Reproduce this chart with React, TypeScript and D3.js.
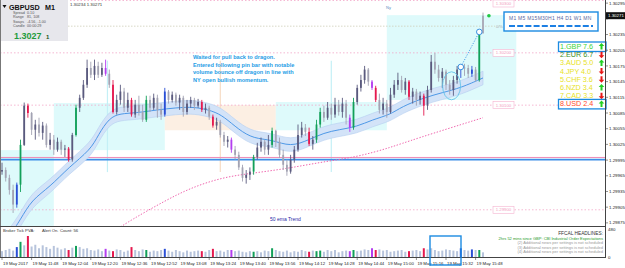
import * as d3 from 'd3';

const W = 625;
const H = 268;

// bars are 2 minutes apart, first bar at 11:32
const firstBarMinute = 692;
const barMinutes = 2;

// open, high, low, close
const candles: number[][] = [
  [1.29973, 1.2999, 1.29967, 1.29976], [1.29976, 1.29981, 1.29954, 1.29961], [1.29961, 1.29967, 1.29929, 1.29938],
  [1.29938, 1.29948, 1.29894, 1.2991], [1.2991, 1.29952, 1.29904, 1.29948], [1.29948, 1.30034, 1.29934, 1.30024],
  [1.30024, 1.30105, 1.30022, 1.30099], [1.30099, 1.30103, 1.30076, 1.30085], [1.30085, 1.30087, 1.30043, 1.30053],
  [1.30053, 1.30072, 1.30034, 1.30063], [1.30063, 1.30076, 1.3004, 1.30047], [1.30047, 1.30068, 1.30034, 1.30061],
  [1.30061, 1.30065, 1.30019, 1.30024], [1.30024, 1.30047, 1.30015, 1.30034], [1.30034, 1.30043, 1.30005, 1.30015],
  [1.30015, 1.30038, 1.30011, 1.3003], [1.3003, 1.30034, 1.30005, 1.30015], [1.30015, 1.30024, 1.30001, 1.30017],
  [1.30017, 1.3002, 1.29992, 1.29996], [1.29996, 1.30047, 1.29992, 1.30043], [1.30043, 1.30101, 1.3004, 1.30095],
  [1.30095, 1.3012, 1.30087, 1.30114], [1.30114, 1.30148, 1.3011, 1.30139], [1.30139, 1.30187, 1.30133, 1.30171],
  [1.30171, 1.30183, 1.30152, 1.30158], [1.30158, 1.30187, 1.30148, 1.30175], [1.30175, 1.30183, 1.30152, 1.30158],
  [1.30158, 1.30181, 1.30154, 1.30171], [1.30171, 1.30187, 1.30156, 1.3016], [1.3016, 1.30168, 1.30133, 1.30139],
  [1.30139, 1.30148, 1.30084, 1.30087], [1.30087, 1.3012, 1.30082, 1.3011], [1.3011, 1.30139, 1.30101, 1.30126],
  [1.30126, 1.30133, 1.30087, 1.30095], [1.30095, 1.30124, 1.30087, 1.3011], [1.3011, 1.30114, 1.30078, 1.30082],
  [1.30082, 1.3011, 1.30076, 1.30101], [1.30101, 1.30118, 1.3008, 1.30087], [1.30087, 1.30101, 1.30068, 1.30072],
  [1.30072, 1.30118, 1.30068, 1.3011], [1.3011, 1.30118, 1.30087, 1.30095], [1.30095, 1.30122, 1.30091, 1.30114],
  [1.30114, 1.3012, 1.30076, 1.30091], [1.30091, 1.30103, 1.30072, 1.30082], [1.30082, 1.30133, 1.30078, 1.30126],
  [1.30126, 1.30129, 1.30103, 1.3011], [1.3011, 1.30126, 1.30105, 1.3012], [1.3012, 1.30124, 1.30099, 1.30105],
  [1.30105, 1.3012, 1.30091, 1.30114], [1.30114, 1.30118, 1.30078, 1.30087], [1.30087, 1.3011, 1.30082, 1.30103],
  [1.30103, 1.30116, 1.30095, 1.3011], [1.3011, 1.30114, 1.30091, 1.30099], [1.30099, 1.30112, 1.30095, 1.30106],
  [1.30106, 1.3011, 1.30087, 1.30091], [1.30091, 1.30103, 1.30084, 1.30095], [1.30095, 1.30099, 1.30072, 1.30078],
  [1.30078, 1.30082, 1.30057, 1.30061], [1.30061, 1.30076, 1.30053, 1.30068], [1.30068, 1.30072, 1.30038, 1.30043],
  [1.30043, 1.30049, 1.30022, 1.3003], [1.3003, 1.30041, 1.30019, 1.30034], [1.30034, 1.30038, 1.30009, 1.30015],
  [1.30015, 1.30022, 1.29996, 1.30005], [1.30005, 1.30011, 1.29976, 1.29981], [1.29981, 1.29986, 1.29954, 1.29961],
  [1.29961, 1.29976, 1.2995, 1.29967], [1.29967, 1.29981, 1.29957, 1.29973], [1.29973, 1.30005, 1.29967, 1.30001],
  [1.30001, 1.30028, 1.29996, 1.30019], [1.30019, 1.30038, 1.30011, 1.3003], [1.3003, 1.30034, 1.30005, 1.30015],
  [1.30015, 1.30043, 1.30005, 1.30024], [1.30024, 1.30057, 1.30019, 1.30051], [1.30051, 1.30053, 1.3002, 1.3003],
  [1.3003, 1.30038, 1.29999, 1.30005], [1.30005, 1.30015, 1.29976, 1.29986], [1.29986, 1.29996, 1.29965, 1.29973],
  [1.29973, 1.30005, 1.29969, 1.29996], [1.29996, 1.30022, 1.2999, 1.30015], [1.30015, 1.30063, 1.30011, 1.30043],
  [1.30043, 1.30068, 1.30038, 1.30057], [1.30057, 1.30064, 1.30041, 1.30049], [1.30049, 1.30057, 1.30022, 1.30026],
  [1.30026, 1.30041, 1.30015, 1.30034], [1.30034, 1.30072, 1.30028, 1.30063], [1.30063, 1.30095, 1.30057, 1.30087],
  [1.30087, 1.30099, 1.30068, 1.30076], [1.30076, 1.30106, 1.30072, 1.30095], [1.30095, 1.30103, 1.30072, 1.30082],
  [1.30082, 1.30114, 1.30076, 1.30101], [1.30101, 1.3011, 1.3008, 1.30087], [1.30087, 1.30114, 1.30076, 1.30103],
  [1.30103, 1.3011, 1.30063, 1.30076], [1.30076, 1.30082, 1.30049, 1.30057], [1.30057, 1.30114, 1.30053, 1.30106],
  [1.30106, 1.30139, 1.30101, 1.30133], [1.30133, 1.30158, 1.30126, 1.30148], [1.30148, 1.30175, 1.30141, 1.30168],
  [1.30168, 1.30171, 1.30137, 1.30145], [1.30145, 1.30148, 1.30129, 1.30133], [1.30133, 1.30137, 1.30106, 1.3011],
  [1.3011, 1.30122, 1.30084, 1.30091], [1.30091, 1.30114, 1.30082, 1.30103], [1.30103, 1.3011, 1.30076, 1.30087],
  [1.30087, 1.30133, 1.30084, 1.3012], [1.3012, 1.30148, 1.30114, 1.30139], [1.30139, 1.30162, 1.30129, 1.30148],
  [1.30148, 1.30156, 1.30124, 1.30129], [1.30129, 1.30152, 1.3012, 1.30145], [1.30145, 1.30148, 1.3011, 1.30116],
  [1.30116, 1.30133, 1.30103, 1.30126], [1.30126, 1.30131, 1.30099, 1.3011], [1.3011, 1.30126, 1.30101, 1.30118],
  [1.30118, 1.30122, 1.3008, 1.30099], [1.30099, 1.30137, 1.30091, 1.30129], [1.30129, 1.30196, 1.30124, 1.30183],
  [1.30183, 1.302, 1.3016, 1.30168], [1.30168, 1.30177, 1.30145, 1.30152], [1.30152, 1.30171, 1.30133, 1.30164],
  [1.30164, 1.30168, 1.30129, 1.30139], [1.30139, 1.30148, 1.3012, 1.30129], [1.30129, 1.30156, 1.30118, 1.30148],
  [1.30148, 1.30175, 1.30141, 1.30168], [1.30168, 1.30175, 1.30152, 1.30172], [1.30172, 1.30179, 1.30156, 1.30171],
  [1.30171, 1.30177, 1.30152, 1.3016], [1.3016, 1.30175, 1.30154, 1.30168], [1.30168, 1.30173, 1.30145, 1.30148],
  [1.30148, 1.30244, 1.30145, 1.30238], [1.30238, 1.30277, 1.30236, 1.30271],
];

const volumes = [
  100, 120, 140, 110, 170, 260, 200, 360, 180, 210, 150, 200, 170, 140, 190, 160, 130, 150, 120, 160,
  190, 170, 140, 150, 120, 110, 130, 100, 140, 110, 100, 130, 120, 90, 110, 170, 120, 100, 130, 120,
  90, 110, 100, 120, 140, 110, 90, 120, 100, 80, 110, 90, 100, 110, 100, 90, 120, 140, 100, 110,
  90, 120, 120, 100, 110, 90, 80, 100, 90, 100, 80, 110, 100, 150, 120, 100, 90, 110, 80, 100,
  90, 120, 100, 90, 110, 100, 110, 90, 120, 100, 120, 80, 100, 110, 100, 120, 100, 110, 130, 120,
  150, 120, 130, 110, 120, 90, 100, 110, 120, 90, 100, 110, 120, 100, 150, 130, 150, 120, 100, 110,
  130, 120, 110, 100, 150, 120, 110, 130, 120, 120, 80,
];

// PVA bar classes
const climaxBars = [5, 7, 18, 20, 30, 35, 39, 54, 57, 68, 73, 83, 85, 86, 95, 101, 110, 114, 129];
const risingBars = [4, 28, 44, 62, 94, 100, 124, 127];

// dragon (EMA high / mid / low)
const dragonBars = [2, 5, 8, 13, 18, 24, 26, 29, 32, 36, 42, 47, 52, 57, 60, 64, 68, 73, 78, 83, 87, 91, 96, 100, 105, 108, 114, 119, 124, 130];
const dragonHigh = [1.29864, 1.29894, 1.29933, 1.29957, 1.29994, 1.30029, 1.30057, 1.30089, 1.30097, 1.30098, 1.30104, 1.30108, 1.3011, 1.30102, 1.30091, 1.30066, 1.30049, 1.30047, 1.30033, 1.30047, 1.3006, 1.30066, 1.30072, 1.30085, 1.30095, 1.3011, 1.30127, 1.30137, 1.30146, 1.30165];
const dragonMid = [1.2985, 1.29881, 1.29919, 1.29944, 1.29981, 1.30015, 1.30043, 1.30076, 1.30084, 1.30085, 1.30091, 1.30095, 1.30097, 1.30089, 1.30078, 1.30053, 1.30036, 1.30034, 1.3002, 1.30034, 1.30047, 1.30053, 1.30059, 1.30072, 1.30082, 1.30097, 1.30114, 1.30124, 1.30133, 1.30152];
const dragonLow = [1.29836, 1.29867, 1.29905, 1.29931, 1.29968, 1.30001, 1.30029, 1.30063, 1.30071, 1.30072, 1.30078, 1.30082, 1.30084, 1.30076, 1.30065, 1.3004, 1.30023, 1.30021, 1.30007, 1.30021, 1.30034, 1.3004, 1.30046, 1.30059, 1.30069, 1.30084, 1.30101, 1.30111, 1.3012, 1.30139];

// 50 ema trend
const trendBars = [30, 35, 44, 51, 60, 69, 78, 87, 96, 105, 111, 130];
const trendValues = [1.29858, 1.29881, 1.29917, 1.29942, 1.29963, 1.29971, 1.2998, 1.29992, 1.30001, 1.30019, 1.30034, 1.30076];

// session boxes (minutes from midnight, price range)
const sessionFrom = [691, 720, 780, 840, 900];
const sessionTo = [720, 780, 840, 900, 970];
const sessionHigh = [1.30014, 1.30104, 1.301, 1.30106, 1.30272];
const sessionLow = [1.29869, 1.30014, 1.30052, 1.30052, 1.3011];
const sessionKind = ['asia', 'asia', 'london', 'asia', 'asia'];
const sessionOpenLines = [749, 810, 870];

const priceTicks = [1.30295, 1.30265, 1.30235, 1.30205, 1.30175, 1.30145, 1.30115, 1.30085, 1.30055, 1.30025, 1.29995, 1.29965, 1.29935, 1.29905, 1.29875];
const roundLevels = [1.303, 1.302, 1.301, 1.299];
const lastPrice = 1.30271;

const timeTickMinutes = [692, 708, 724, 740, 756, 772, 788, 804, 820, 836, 852, 868, 884, 900, 916, 932, 948];
const timeTickLabels = ['19 May 2017', '19 May 11:48', '19 May 12:04', '19 May 12:20', '19 May 12:36', '19 May 12:52', '19 May 13:08', '19 May 13:24', '19 May 13:40', '19 May 13:56', '19 May 14:12', '19 May 14:28', '19 May 14:44', '19 May 15:00', '19 May 15:16', '19 May 15:32', '19 May 15:48'];

const currencies = ['GBP', 'EUR', 'AUD', 'JPY', 'CHF', 'NZD', 'CAD', 'USD'];
const strengths = [7.6, 6.7, 5.0, 4.0, 3.6, 3.4, 3.3, 2.4];
const strengthDir = [1, -1, 1, -1, -1, 1, -1, 1];
const timeframes = ['M1', 'M5', 'M15', 'M30', 'H1', 'H4', 'D1', 'W1', 'MN'];

const noteLines = [
  'Waited for pull back to dragon.',
  'Entered following pin bar with notable',
  'volume bounce off dragon in line with',
  'NY open bullish momentum.',
];
const newsLines = [
  '2hrs 52 mins since GBP: CBI Industrial Order Expectations',
  '(2) Additional news per settings is not scheduled',
  '(3) Additional news per settings is not scheduled',
  '(4) Additional news per settings is not scheduled',
];

const FONT = 'Liberation Sans, Arial, sans-serif';

const barColor = (i: number, up: boolean, vol = false) => {
  if (climaxBars.includes(i)) return up ? '#12a05a' : '#e5194f';
  if (risingBars.includes(i)) return up ? '#2a4fd6' : '#b43ef0';
  if (vol) return '#b7c4dc';
  return up ? '#5a5a7e' : '#a3a3b3';
};

const strengthColor = (i: number) => {
  if (i === 0) return '#3bd43b';
  if (i === 1) return '#3b8f1e';
  if (i === 7) return '#ff4a2a';
  return '#e8e21c';
};

const Arrow = ({ cx, cy, up }: { cx: number; cy: number; up: boolean }) => {
  const s = up ? -1 : 1;
  const d = `M${cx},${cy + s * 3.5} L${cx - 2.8},${cy + s * 0.5} L${cx - 1},${cy + s * 0.5} L${cx - 1},${cy - s * 3} L${cx + 1},${cy - s * 3} L${cx + 1},${cy + s * 0.5} L${cx + 2.8},${cy + s * 0.5} Z`;
  return <path d={d} fill={up ? '#22d022' : '#e81818'} />;
};

export default function App() {
  const plotRight = 605;
  const mainBottom = 226;
  const xm = d3.scaleLinear().domain([692, 948]).range([2, 475.6]);
  const bx = (i: number) => xm(firstBarMinute + barMinutes * i);
  const y = d3.scaleLinear().domain([1.29869, 1.30301]).range([mainBottom, 0]);
  const yv = d3.scaleLinear().domain([0, 480]).range([257, 229]);

  const dragonArea = d3.area<number>()
    .x((i) => bx(dragonBars[i]))
    .y0((i) => y(dragonLow[i]))
    .y1((i) => y(dragonHigh[i]))
    .curve(d3.curveBasis);
  const lineOf = (arr: number[]) => d3.line<number>()
    .x((i) => bx(dragonBars[i]))
    .y((i) => y(arr[i]))
    .curve(d3.curveBasis);
  const trendLine = d3.line<number>()
    .x((i) => bx(trendBars[i]))
    .y((i) => y(trendValues[i]))
    .curve(d3.curveBasis);
  const dIdx = d3.range(dragonBars.length);
  const tIdx = d3.range(trendBars.length);

  // trade annotation points
  const circA = { x: bx(124), y: y(1.30173) };
  const circB = { x: bx(129), y: y(1.3024) };

  // grid labels hidden under the last-price box
  const shownTicks = priceTicks.filter((p) => Math.abs(y(p) - y(lastPrice)) > 7);

  return (
    <svg width={W} height={H} style={{ position: 'absolute', left: 0, top: 0, background: '#fff' }} fontFamily={FONT}>
      <defs>
        <clipPath id="main"><rect x={0} y={0} width={plotRight} height={mainBottom} /></clipPath>
      </defs>
      <g clipPath="url(#main)">
        {sessionFrom.map((f, i) => (
          <rect key={i} x={xm(f)} y={y(sessionHigh[i])} width={xm(sessionTo[i]) - xm(f)}
            height={y(sessionLow[i]) - y(sessionHigh[i])}
            fill={sessionKind[i] === 'london' ? '#fcefe3' : '#defafb'} />
        ))}
        {sessionOpenLines.map((m, i) => (
          <line key={i} x1={xm(m)} x2={xm(m)} y1={y(1.30185)} y2={y(1.29972)}
            stroke={i === 1 ? '#f6dcc4' : '#c4f0f6'} strokeWidth={1.2} />
        ))}
        <line x1={68} x2={495} y1={y(1.30251)} y2={y(1.30251)} stroke="#cfcfb8" strokeDasharray="1.5,1.5" strokeWidth={0.8} />
        <text x={496} y={y(1.30251) + 1.5} fontSize={4} fill="#aaa">0/%</text>
        {roundLevels.map((p) => {
          const ly = Math.max(y(p), 3.5);
          return (
            <g key={p}>
              <line x1={0} x2={plotRight} y1={y(p)} y2={y(p)} stroke="#f3a4c6" strokeDasharray="1.5,2" strokeWidth={0.8} />
              <rect x={493} y={ly - 3.5} width={21} height={7} fill="#fff" stroke="#f5b3cf" strokeWidth={0.6} />
              <text x={503.5} y={ly + 1.6} fontSize={4.3} textAnchor="middle" fill="#f29bc0">{p.toFixed(5)}</text>
            </g>
          );
        })}
        <line x1={0} x2={plotRight} y1={y(1.3)} y2={y(1.3)} stroke="#f08ab5" strokeWidth={1} />
        <line x1={0} x2={plotRight} y1={y(1.29996)} y2={y(1.29996)} stroke="#3d8ee8" strokeWidth={1.8} />
        <path d={trendLine(tIdx) ?? ''} fill="none" stroke="#f063ad" strokeWidth={1} strokeDasharray="1.4,1.6" />
        <path d={dragonArea(dIdx) ?? ''} fill="#d3e3f8" stroke="#b5cef0" strokeWidth={0.6} />
        <path d={lineOf(dragonMid)(dIdx) ?? ''} fill="none" stroke="#3f90e4" strokeWidth={0.9} />
        {candles.map(([o, h, l, c], i) => {
          const cx = bx(i);
          const up = c >= o;
          const col = i === candles.length - 1 ? '#a9a9b6' : barColor(i, up);
          const top = Math.min(y(o), y(c));
          return (
            <g key={i}>
              <line x1={cx} x2={cx} y1={y(h)} y2={y(l)} stroke={col} strokeWidth={0.9} />
              <rect x={cx - 0.9} y={top} width={1.8} height={Math.max(1, Math.abs(y(o) - y(c)))} fill={col} />
            </g>
          );
        })}
        <line x1={circA.x} y1={circA.y} x2={circB.x} y2={circB.y} stroke="#3d95e6" strokeWidth={0.9} strokeDasharray="1.2,1.4" />
        <ellipse cx={xm(935)} cy={y(1.30137)} rx={9} ry={14} fill="none" stroke="#63c3ea" strokeWidth={0.9} />
        <circle cx={circA.x} cy={circA.y} r={2.8} fill="#fff" stroke="#3a90e0" strokeWidth={1} />
        <circle cx={circB.x} cy={circB.y} r={2.8} fill="#fff" stroke="#3a90e0" strokeWidth={1} />
        <circle cx={bx(131.6)} cy={y(lastPrice)} r={1.8} fill="#22c844" />
      </g>

      {/* note */}
      {noteLines.map((t, i) => (
        <text key={i} x={193} y={59 + i * 7.7} fontSize={5.6} fontWeight="bold" fill="#1e9de6">{t}</text>
      ))}
      <text x={386} y={9} fontSize={4} fill="#5a8ac0">Ny</text>
      <text x={270} y={221} fontSize={5} fill="#2a2aa8">50 ema Trend</text>

      {/* info panel */}
      <rect x={0} y={0} width={68} height={41} fill="#e7e7ec" />
      <path d="M2.5,5 L6.5,5 L4.5,8 Z" fill="#111" />
      <text x={9} y={10} fontSize={7.2} fontWeight="bold" fill="#111">GBPUSD</text>
      <text x={45} y={10} fontSize={7.2} fontWeight="bold" fill="#111">M1</text>
      {[['Spread', '0.10'], ['Range', '81, 108'], ['Swaps', '-4.56, -1.00'], ['Candle', '00:00:29']].map(([k, v], i) => (
        <g key={k} fontSize={3.7} fill="#555">
          <text x={13} y={14 + i * 4.3}>{k}</text>
          <text x={27} y={14 + i * 4.3}>{v}</text>
        </g>
      ))}
      <text x={14} y={38.5} fontSize={9} fontWeight="bold" fill="#1f9b3c">1.3027</text>
      <text x={46} y={38.5} fontSize={6} fontWeight="bold" fill="#225522">1</text>
      <text x={70} y={6} fontSize={4.3} fill="#333">1.30234 1.30271</text>

      {/* timeframe box */}
      <rect x={504} y={12} width={94} height={19} fill="#fff" stroke="#1c8be2" strokeWidth={1.4} />
      <text x={509} y={19.5} fontSize={5} fill="#5868a0" letterSpacing={0.25}>
        {timeframes.map((t, i) => (i === 2 || i === 3 ? t : t + ' ')).join('').trim()}
      </text>
      <line x1={509} x2={593} y1={26} y2={26} stroke="#1c7fe3" strokeWidth={1.8} strokeDasharray="6,2.2" />

      {/* currency strength */}
      {currencies.map((c, i) => {
        const by = 49 + i * 8.2;
        return (
          <g key={c}>
            {(i === 0 || i === 7) && (
              <rect x={558.5} y={by - 7} width={47.5} height={9.5} fill="#fff" stroke="#1c8be2" strokeWidth={1.3} />
            )}
            <text x={560} y={by} fontSize={7.2} fill={strengthColor(i)}>{`${i + 1}.${c} ${strengths[i].toFixed(1)}`}</text>
            <Arrow cx={601.5} cy={by - 2.5} up={strengthDir[i] > 0} />
          </g>
        );
      })}

      {/* volume panel */}
      {volumes.map((v, i) => {
        const [o, , , c] = candles[i];
        return <rect key={i} x={bx(i) - 1} y={yv(v)} width={2} height={yv(0) - yv(v)} fill={barColor(i, c >= o, true)} />;
      })}
      <text x={3} y={232} fontSize={4.2} fill="#333">Broker Tick PVA:</text>
      <text x={42} y={232} fontSize={4.2} fill="#333">Alert On.</text>
      <text x={60} y={232} fontSize={4.2} fill="#333">Count: 56</text>
      <text x={603} y={235} fontSize={4.8} textAnchor="end" fill="#333">FFCAL HEADLINES:</text>
      {newsLines.map((t, i) => (
        <text key={i} x={603} y={240 + i * 4.4} fontSize={4} textAnchor="end" fill={i === 0 ? '#1f9a2a' : '#9a9a9a'}>{t}</text>
      ))}

      {/* axes */}
      <line x1={0.5} x2={0.5} y1={0} y2={257} stroke="#777" strokeWidth={1} />
      <line x1={0} x2={plotRight} y1={mainBottom + 0.5} y2={mainBottom + 0.5} stroke="#444" strokeWidth={1} />
      <line x1={0} x2={plotRight} y1={257.5} y2={257.5} stroke="#444" strokeWidth={1} />
      <line x1={plotRight + 0.5} x2={plotRight + 0.5} y1={0} y2={258} stroke="#444" strokeWidth={1} />
      {priceTicks.map((p) => (
        <line key={p} x1={plotRight} x2={plotRight + 3} y1={y(p)} y2={y(p)} stroke="#444" strokeWidth={0.6} />
      ))}
      {shownTicks.map((p) => (
        <text key={p} x={609} y={y(p) + 1.6} fontSize={4.4} fill="#222">{p.toFixed(5)}</text>
      ))}
      <rect x={606} y={y(lastPrice) - 3.5} width={19} height={7} fill="#111" />
      <text x={608} y={y(lastPrice) + 1.6} fontSize={4.4} fill="#fff">{lastPrice.toFixed(5)}</text>
      <text x={608} y={231} fontSize={4.4} fill="#222">480</text>
      <text x={608} y={259} fontSize={4.4} fill="#222">0</text>
      {timeTickMinutes.map((m, i) => (
        <g key={m}>
          <line x1={xm(m)} x2={xm(m)} y1={257} y2={260} stroke="#444" strokeWidth={0.6} />
          <text x={xm(m) + 1} y={264.5} fontSize={4.3} fill="#222">{timeTickLabels[i]}</text>
        </g>
      ))}
      <rect x={430} y={236} width={31} height={29} fill="none" stroke="#1c8be2" strokeWidth={1.4} />
    </svg>
  );
}
